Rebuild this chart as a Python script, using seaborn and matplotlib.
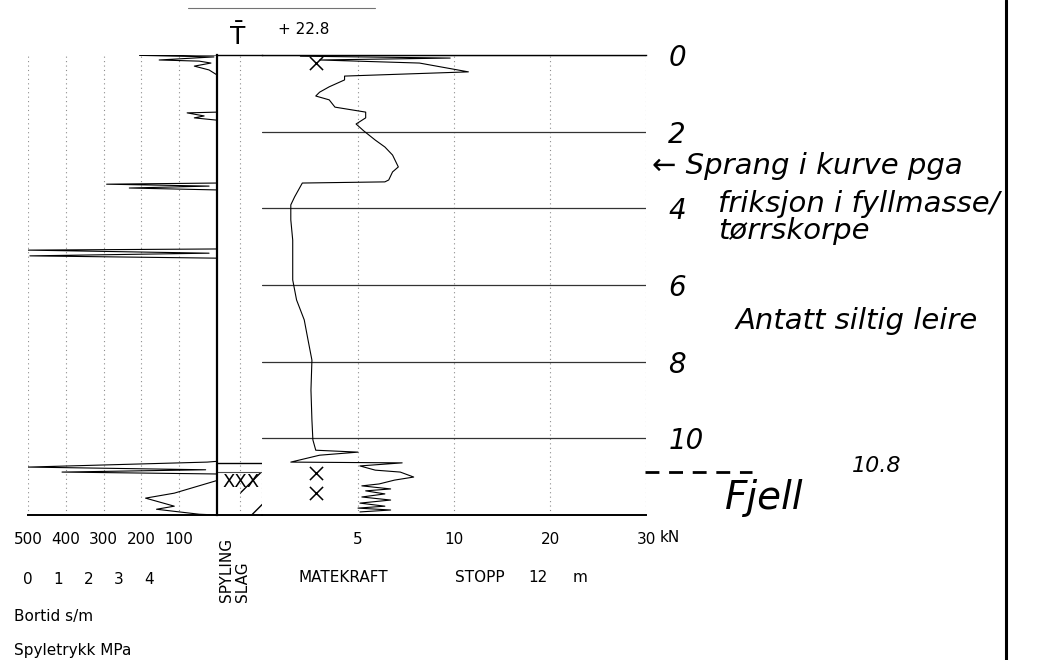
import numpy as np
import matplotlib
matplotlib.use("Agg")
import matplotlib.pyplot as plt
from matplotlib.lines import Line2D
import seaborn as sns

# Totalsondering, values (depth in m)
force_depth = [0.03, 0.08, 0.13, 0.21, 0.44, 0.55, 0.65, 0.83, 0.97, 1.07,
               1.17, 1.36, 1.49, 1.64, 1.80, 1.98, 2.22, 2.40, 2.61, 2.92,
               3.05, 3.26, 3.31, 3.34, 3.52, 3.70, 3.91, 4.30, 4.83, 5.35,
               5.87, 6.39, 6.91, 7.44, 7.96, 8.74, 9.52, 10.04, 10.31, 10.36,
               10.44, 10.62, 10.64, 10.72, 10.83, 10.88, 11.01, 11.09, 11.19, 11.24,
               11.32, 11.37, 11.45, 11.53, 11.61, 11.69, 11.77, 11.82, 11.87, 11.92]
force_kn = [2.0, 9.8, 3.0, 8.2, 11.5, 4.3, 4.3, 3.5, 3.0, 2.8,
            3.5, 3.8, 5.4, 5.4, 4.9, 5.3, 5.9, 6.4, 6.8, 7.1,
            6.8, 6.6, 6.4, 2.1, 1.9, 1.7, 1.5, 1.5, 1.6, 1.6,
            1.6, 1.8, 2.2, 2.4, 2.6, 2.55, 2.6, 2.65, 2.8, 5.0,
            3.0, 1.5, 7.3, 5.1, 5.9, 7.2, 7.9, 6.9, 6.1, 5.2,
            6.7, 5.4, 6.4, 5.2, 6.7, 5.1, 6.4, 5.0, 6.7, 5.1]

bortid_depth = [0.0, 0.01, 0.05, 0.13, 0.16, 0.21, 0.29, 0.39, 0.52,
                1.49, 1.51, 1.59, 1.64, 1.70,
                3.34, 3.37, 3.42, 3.47, 3.52,
                5.06, 5.09, 5.17, 5.24, 5.30,
                10.60, 10.62, 10.75, 10.82, 10.88, 10.93,
                11.10, 11.43, 11.56, 11.77, 11.85, 11.98, 12.0]
bortid_s = [0, 205, 8, 153, 47, 16, 60, 21, 0,
            0, 79, 34, 60, 0,
            0, 292, 21, 232, 0,
            0, 500, 21, 495, 0,
            0, 26, 500, 30, 410, 0,
            0, 113, 189, 113, 160, 47, 0]

x_mark_depth = [0.21, 10.9, 11.43]
x_mark_force = [2.8, 2.8, 2.8]

rock_top = 10.64
slag_top = 10.88

depth_ticks = [0, 2, 4, 6, 8, 10]
depth_labels = ["0", "2", "4", "6", "8", "10"]
force_ticks = [5, 10, 20, 30]
bortid_ticks = [500, 400, 300, 200, 100]
mpa_ticks = [0, 1, 2, 3, 4]

W, H = 1049, 660


def fx(x):
    return x / W


def fy(y):
    return 1 - y / H


def force_fwd(x):
    # the force axis is stretched below 10 kN
    x = np.asarray(x, dtype=float)
    return np.where(x <= 10, x, 10 + (x - 10) / 2)


def force_inv(x):
    x = np.asarray(x, dtype=float)
    return np.where(x <= 10, x, 10 + (x - 10) * 2)


sns.set_theme(style="white")
plt.rcParams["font.family"] = ["DejaVu Sans"]

fig = plt.figure(figsize=(W / 100, H / 100), dpi=100)
fig.patch.set_facecolor("white")

ax_l = fig.add_axes([fx(28), fy(515), (217 - 28) / W, 460 / H])
ax_s = fig.add_axes([fx(217), fy(515), 45 / W, 460 / H])
ax_f = fig.add_axes([fx(262), fy(515), 384 / W, 460 / H])
for ax in (ax_l, ax_s, ax_f):
    ax.set_facecolor("none")
    ax.set_ylim(12, 0)
    for side in ax.spines:
        ax.spines[side].set_visible(False)

dot = (0, (1, 3))

# left column: bortid / spyletrykk
sns.lineplot(x=bortid_s, y=bortid_depth, sort=False, estimator=None,
             color="black", lw=0.8, ax=ax_l)
ax_l.set_xlim(500, 0)
ax_l.set_xticks(bortid_ticks)
ax_l.set_yticks([])
ax_l.tick_params(axis="x", length=0, pad=12, labelsize=11, colors="black")
ax_l.xaxis.grid(True, ls=dot, color="0.55", lw=0.8)
ax_l.spines["bottom"].set_visible(True)
ax_l.spines["bottom"].set_color("black")
ax_l.spines["bottom"].set_linewidth(1.4)
ax_l.set_xlabel("")
ax_l.set_ylabel("")

sec = ax_l.secondary_xaxis("bottom", functions=(lambda b: (500 - b) / 80,
                                                lambda m: 500 - 80 * m))
sec.set_xticks(mpa_ticks)
sec.tick_params(length=0, pad=41, labelsize=11, colors="black")
sec.spines["bottom"].set_visible(False)

# spyling / slag column
ax_s.set_xlim(0, 2)
ax_s.set_xticks([])
ax_s.set_yticks([])
for side in ("left", "top", "bottom"):
    ax_s.spines[side].set_visible(True)
    ax_s.spines[side].set_color("black")
ax_s.spines["left"].set_linewidth(1.6)
ax_s.spines["top"].set_linewidth(1.0)
ax_s.spines["bottom"].set_linewidth(1.4)
ax_s.axvline(1, ls=dot, color="0.55", lw=0.8)
ax_s.axvline(2, ymax=(12 - rock_top) / 12, ls=dot, color="0.4", lw=0.8)
ax_s.axhline(rock_top, color="black", lw=1.0)
ax_s.axhline(slag_top, color="0.3", lw=0.8)
ax_s.fill_betweenx([slag_top, 12], 1, 2, facecolor="none",
                   edgecolor="black", hatch="/", lw=0)
ax_s.text(1.07, 11.14, "XXX", ha="center", va="center", fontsize=13,
          color="black")

# matekraft column
ax_f.set_xscale("function", functions=(force_fwd, force_inv))
sns.lineplot(x=force_kn, y=force_depth, sort=False, estimator=None,
             color="black", lw=0.8, ax=ax_f)
sns.scatterplot(x=x_mark_force, y=x_mark_depth, marker="x", s=90,
                color="black", linewidth=1.1, ax=ax_f)
ax_f.set_xlim(0, 30)
ax_f.set_ylim(12, 0)
ax_f.set_xticks(force_ticks)
ax_f.tick_params(axis="x", length=0, pad=12, labelsize=11, colors="black")
ax_f.xaxis.grid(True, ls=dot, color="0.55", lw=0.8)
ax_f.yaxis.tick_right()
ax_f.set_yticks(depth_ticks)
ax_f.set_yticklabels(depth_labels, fontstyle="italic", fontsize=20)
ax_f.tick_params(axis="y", length=0, pad=16, colors="black")
ax_f.yaxis.grid(True, ls="-", color="0.2", lw=0.9)
for side in ("top", "bottom"):
    ax_f.spines[side].set_visible(True)
    ax_f.spines[side].set_color("black")
ax_f.spines["top"].set_linewidth(1.0)
ax_f.spines["bottom"].set_linewidth(1.4)
ax_f.set_xlabel("")
ax_f.set_ylabel("")

# printed labels
txt = dict(color="black", fontsize=11, va="center")
fig.text(fx(670), fy(538), "kN", ha="center", **txt)
fig.text(fx(298), fy(578), "MATEKRAFT", ha="left", **txt)
fig.text(fx(455), fy(578), "STOPP", ha="left", **txt)
fig.text(fx(528), fy(578), "12", ha="left", **txt)
fig.text(fx(573), fy(578), "m", ha="left", **txt)
fig.text(fx(14), fy(617), "Bortid s/m", ha="left", **txt)
fig.text(fx(14), fy(650), "Spyletrykk MPa", ha="left", **txt)
fig.text(fx(227), fy(602), "SPYLING", rotation=90, ha="center", va="bottom",
         fontsize=11, color="black")
fig.text(fx(243), fy(602), "SLAG", rotation=90, ha="center", va="bottom",
         fontsize=11, color="black")
fig.text(fx(238), fy(36), r"$\bar{\mathrm{T}}$", ha="center", va="center",
         fontsize=18, color="black")
fig.text(fx(278), fy(30), "+ 22.8", ha="left", **txt)

# handwritten notes
hand = dict(color="black", fontstyle="italic", va="center")
fig.text(fx(652), fy(166), "\u2190 Sprang i kurve pga", ha="left",
         fontsize=21, **hand)
fig.text(fx(718), fy(204), "friksjon i fyllmasse/", ha="left",
         fontsize=21, **hand)
fig.text(fx(718), fy(231), "t\u00f8rrskorpe", ha="left", fontsize=21, **hand)
fig.text(fx(736), fy(321), "Antatt siltig leire", ha="left", fontsize=21,
         **hand)
fig.text(fx(725), fy(498), "Fjell", ha="left", fontsize=28, **hand)
fig.text(fx(852), fy(466), "10.8", ha="left", fontsize=16, **hand)

fig.add_artist(Line2D([fx(645), fx(752)], [fy(472), fy(472)],
                      transform=fig.transFigure, color="black", lw=2,
                      ls=(0, (5, 3.5))))
fig.add_artist(Line2D([fx(1006), fx(1006)], [0, 1],
                      transform=fig.transFigure, color="black", lw=2.2))
fig.add_artist(Line2D([fx(188), fx(375)], [fy(8), fy(8)],
                      transform=fig.transFigure, color="0.45", lw=0.8))

fig.savefig("out.png", dpi=100, facecolor="white")
